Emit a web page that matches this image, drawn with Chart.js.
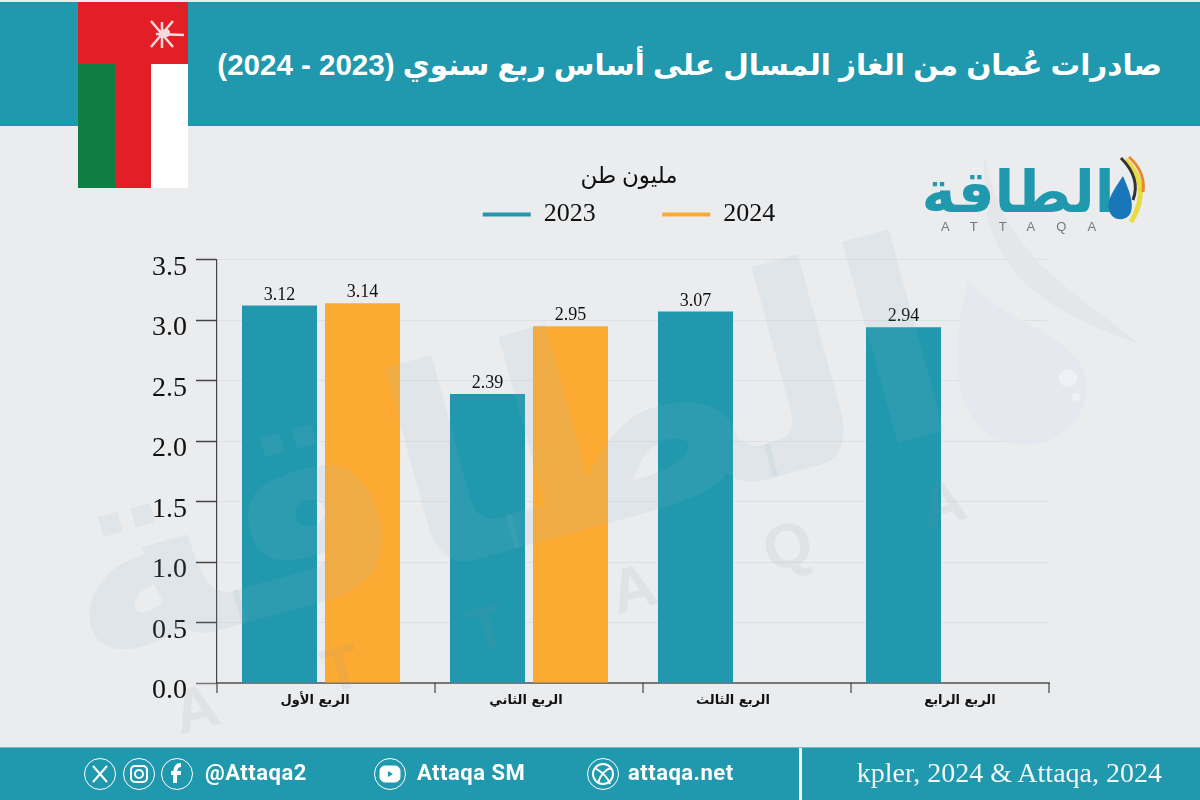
<!DOCTYPE html>
<html lang="ar">
<head>
  <meta charset="UTF-8" />
  <title>صادرات عمان من الغاز المسال</title>
  <script src="https://cdn.jsdelivr.net/npm/chart.js"></script>
  <style>
    html, body { margin: 0; padding: 0; }
    body { width: 1200px; height: 800px; position: relative; overflow: hidden; background: #ebecee; font-family: "Liberation Sans", "DejaVu Sans", sans-serif; }
    #header { position: absolute; left: 0; top: 2px; width: 1200px; height: 124px; background: #2098ae; }
    #title { position: absolute; right: 38px; top: 46px; color: #fff; font: bold 29.5px "Liberation Sans", "DejaVu Sans", sans-serif; direction: rtl; white-space: nowrap; }
    #flag { position: absolute; left: 78px; top: 2px; }
    #watermark { position: absolute; left: 0; top: 126px; }
    #logo { position: absolute; left: 925px; top: 150px; }
    #chartBox { position: absolute; left: 0; top: 0; width: 1200px; height: 800px; }
    #footer { position: absolute; left: 0; top: 747px; width: 1200px; height: 53px; background: #2098ae; border-top: 1px solid #6dbccb; box-sizing: border-box; color: #fff; }
    #footer svg { position: absolute; left: 0; top: 0; }
    #divider { position: absolute; left: 799px; top: 0; width: 3px; height: 53px; background: #f2f4f5; }
    #source { position: absolute; right: 38px; top: 9px; font: 28px "Liberation Serif", serif; white-space: nowrap; color: #f2f6f7; }
    .social { position: absolute; top: 12px; font: bold 22px Roboto, sans-serif; white-space: nowrap; letter-spacing: 0.5px; }
  </style>
</head>
<body>
  <div id="header"><div id="title">صادرات عُمان من الغاز المسال على أساس ربع سنوي (2023 - 2024)</div></div>

  <div id="chartBox"><canvas id="chart" width="1200" height="800"></canvas></div>

  <svg id="watermark" width="1200" height="620" viewBox="0 126 1200 620">
    <g fill="#8fb5c8" fill-opacity="0.12">
      <text x="525" y="546" transform="rotate(-15.4 525 546)" text-anchor="middle" font-family="DejaVu Sans" font-weight="bold" font-size="275">الطاقة</text>
    </g>
    <g fill="#8a8f96" fill-opacity="0.11" font-family="Liberation Sans" font-weight="bold" font-size="62">
      <text x="180" y="735" transform="rotate(-15.4 180 735)" letter-spacing="114">ATTAQA</text>
    </g>
    <path d="M968 280 C950 350 950 420 1000 440 C1050 458 1095 420 1085 375 C1075 335 1000 320 968 280Z" fill="#e5e8ee"/>
    <path d="M985 155 C1000 260 1090 300 1140 345 C1080 320 970 290 985 155Z" fill="#e5e6e8"/>
    <circle cx="1068" cy="378" r="9" fill="#f0f1f4"/>
    <circle cx="1076" cy="397" r="4" fill="#f0f1f4"/>
  </svg>

  <svg id="flag" width="110" height="186" viewBox="0 0 110 186">
    <rect width="110" height="186" fill="#e21f26"/>
    <rect x="0" y="62" width="37" height="124" fill="#0f7e41"/>
    <rect x="73" y="62" width="37" height="124" fill="#fff"/>
    <g stroke="#f6dcdc" stroke-width="2.5" fill="none">
      <path d="M73 19 L95 45 M73 45 L95 19 M84 20 L84 46 M78 32 L106 33"/>
    </g>
    <circle cx="88" cy="31" r="4" fill="#f6dcdc"/>
  </svg>

  <svg id="logo" width="225" height="90" viewBox="0 0 225 90">
    <text x="93" y="62" text-anchor="middle" font-family="DejaVu Sans" font-weight="bold" font-size="58" fill="#2098ae">الطاقة</text>
    <text x="16" y="81" font-family="Liberation Sans" font-size="13" fill="#777" letter-spacing="21">ATTAQA</text>
    <path d="M198 26 C190 38 181 50 184 60 C187 72 202 72 206 62 C209 52 204 40 198 26Z" fill="#1877b8"/>
    <path d="M200 10 C216 24 222 46 206 72" stroke="#e9dc43" stroke-width="5" fill="none"/>
    <path d="M196 8 C208 20 214 34 208 50" stroke="#333" stroke-width="3" fill="none"/>
    <path d="M204 7 C214 16 220 28 218 42" stroke="#e88a2c" stroke-width="3" fill="none"/>
  </svg>

  <div id="footer">
    <svg width="800" height="53" viewBox="0 0 800 53" fill="none" stroke="#fff">
      <circle cx="100" cy="26" r="15.5"/><circle cx="139" cy="26" r="15.5"/><circle cx="177" cy="26" r="15.5"/>
      <circle cx="390" cy="26" r="15.5"/><circle cx="603" cy="26" r="15.5"/>
      <path d="M93 18 L107 34 M107 18 L93 34" stroke-width="2"/>
      <rect x="131" y="18" width="16" height="16" rx="4" stroke-width="2"/><circle cx="139" cy="26" r="4" stroke-width="2"/>
      <path d="M181 17 C175 17 175 21 175 35 M171 25 L181 25" stroke-width="4"/>
      <rect x="380" y="18" width="20" height="16" rx="5" fill="#fff"/>
      <path d="M388 23 L388 29 L393 26Z" fill="#2098ae" stroke="none"/>
      <circle cx="603" cy="26" r="10" stroke-width="2"/><path d="M595 20 C602 24 608 30 610 36 M598 35 C600 27 606 21 611 20" stroke-width="2"/>
    </svg>
    <div class="social" style="left:205px">@Attaqa2</div>
    <div class="social" style="left:417px">Attaqa SM</div>
    <div class="social" style="left:628px">attaqa.net</div>
    <div id="divider"></div>
    <div id="source">kpler, 2024 &amp; Attaqa, 2024</div>
  </div>

  <script>
    const quarters = ['الربع الأول', 'الربع الثاني', 'الربع الثالث', 'الربع الرابع'];
    const values2023 = [3.12, 2.39, 3.07, 2.94];
    const values2024 = [3.14, 2.95, null, null];
    const yTicks = ['0.0', '0.5', '1.0', '1.5', '2.0', '2.5', '3.0', '3.5'];
    const unitLabel = 'مليون طن';
    const teal = '#2098ae';
    const orange = '#fdaa33';
    const axisColor = '#444';
    const baseColor = '#777';

    // the category labels in the source sit a bit off the bar groups
    const labelShift = [-6, -3, -4, 15];

    const axisExtras = {
      id: 'axisExtras',
      afterDraw(chart) {
        const c = chart.ctx, x = chart.scales.x, bottom = chart.chartArea.bottom;
        c.save();
        c.strokeStyle = axisColor;
        c.lineWidth = 1.2;
        c.beginPath();
        c.moveTo(chart.chartArea.left, bottom);
        c.lineTo(chart.chartArea.left, bottom + 10);
        const step = x.width / quarters.length;
        quarters.forEach((q, i) => {
          // last tick closes the axis, the others sit just past the category edge
          const px = i === quarters.length - 1 ? chart.chartArea.right : x.getPixelForValue(i) + step / 2 + 10;
          c.moveTo(px, bottom);
          c.lineTo(px, bottom + 10);
        });
        c.stroke();
        c.fillStyle = '#111';
        c.font = 'bold 13px "DejaVu Sans"';
        c.textAlign = 'center';
        c.textBaseline = 'middle';
        c.direction = 'rtl';
        quarters.forEach((q, i) => {
          c.fillText(q, x.getPixelForValue(i) + labelShift[i], bottom + 18);
        });
        c.restore();
      }
    };

    const barLabels = {
      id: 'barLabels',
      afterDatasetsDraw(chart) {
        const c = chart.ctx;
        c.save();
        c.fillStyle = '#111';
        c.font = '18px "Liberation Serif"';
        c.textAlign = 'center';
        c.textBaseline = 'alphabetic';
        chart.data.datasets.forEach((ds, d) => {
          chart.getDatasetMeta(d).data.forEach((bar, i) => {
            if (ds.data[i] === null) return;
            c.fillText(ds.data[i].toFixed(2), bar.x, bar.y - 6);
          });
        });
        c.restore();
      }
    };

    new Chart(document.getElementById('chart'), {
      type: 'bar',
      data: {
        labels: quarters,
        datasets: [
          { label: '2023', data: values2023, backgroundColor: teal, borderColor: teal },
          { label: '2024', data: values2024, backgroundColor: orange, borderColor: orange }
        ]
      },
      plugins: [axisExtras, barLabels],
      options: {
        responsive: false,
        animation: false,
        devicePixelRatio: 1,
        layout: { padding: { left: 130, right: 72, top: 163, bottom: 0 } },
        datasets: { bar: { categoryPercentage: 0.798, barPercentage: 0.904 } },
        plugins: {
          tooltip: { enabled: false },
          title: {
            display: true,
            text: unitLabel,
            color: '#111',
            font: { family: '"Liberation Serif", "DejaVu Sans"', size: 23, weight: 'normal' },
            padding: { top: 0, bottom: 3 }
          },
          legend: {
            display: true,
            labels: {
              color: '#111',
              font: { family: '"Liberation Serif"', size: 26 },
              boxWidth: 48,
              boxHeight: 4,
              padding: 8,
              // labels.padding also grows the legend height, so the gap between items goes in the text
              generateLabels(chart) {
                const items = Chart.defaults.plugins.legend.labels.generateLabels(chart);
                items[0].text += '\u00a0'.repeat(9);
                return items;
              }
            }
          }
        },
        scales: {
          x: {
            grid: { display: false },
            border: { color: baseColor, width: 2 },
            ticks: { display: false },
            afterFit(s) { s.height = 117; }
          },
          y: {
            min: 0,
            max: 3.5,
            afterFit(s) { s.width = 87; },
            afterBuildTicks(s) { s.ticks = yTicks.map(t => ({ value: parseFloat(t) })); },
            grid: {
              color: '#dfe0e3',
              tickColor: (ctx) => ctx.tick.value === 0 ? baseColor : axisColor,
              tickWidth: 1.5,
              tickLength: 21,
              lineWidth: 1
            },
            border: { color: axisColor, width: 1.2 },
            ticks: {
              color: '#111',
              font: { family: '"Liberation Serif"', size: 28 },
              padding: 9,
              labelOffset: 8,
              callback: (v) => v.toFixed(1)
            }
          },
          spacer: {
            type: 'linear',
            position: 'right',
            display: true,
            grid: { display: false },
            border: { display: false },
            ticks: { display: false },
            afterFit(s) { s.width = 79; }
          },
          topSpacer: {
            type: 'linear',
            position: 'top',
            display: true,
            grid: { display: false },
            border: { display: false },
            ticks: { display: false },
            afterFit(s) { s.height = 22; }
          }
        }
      }
    });
  </script>
</body>
</html>
